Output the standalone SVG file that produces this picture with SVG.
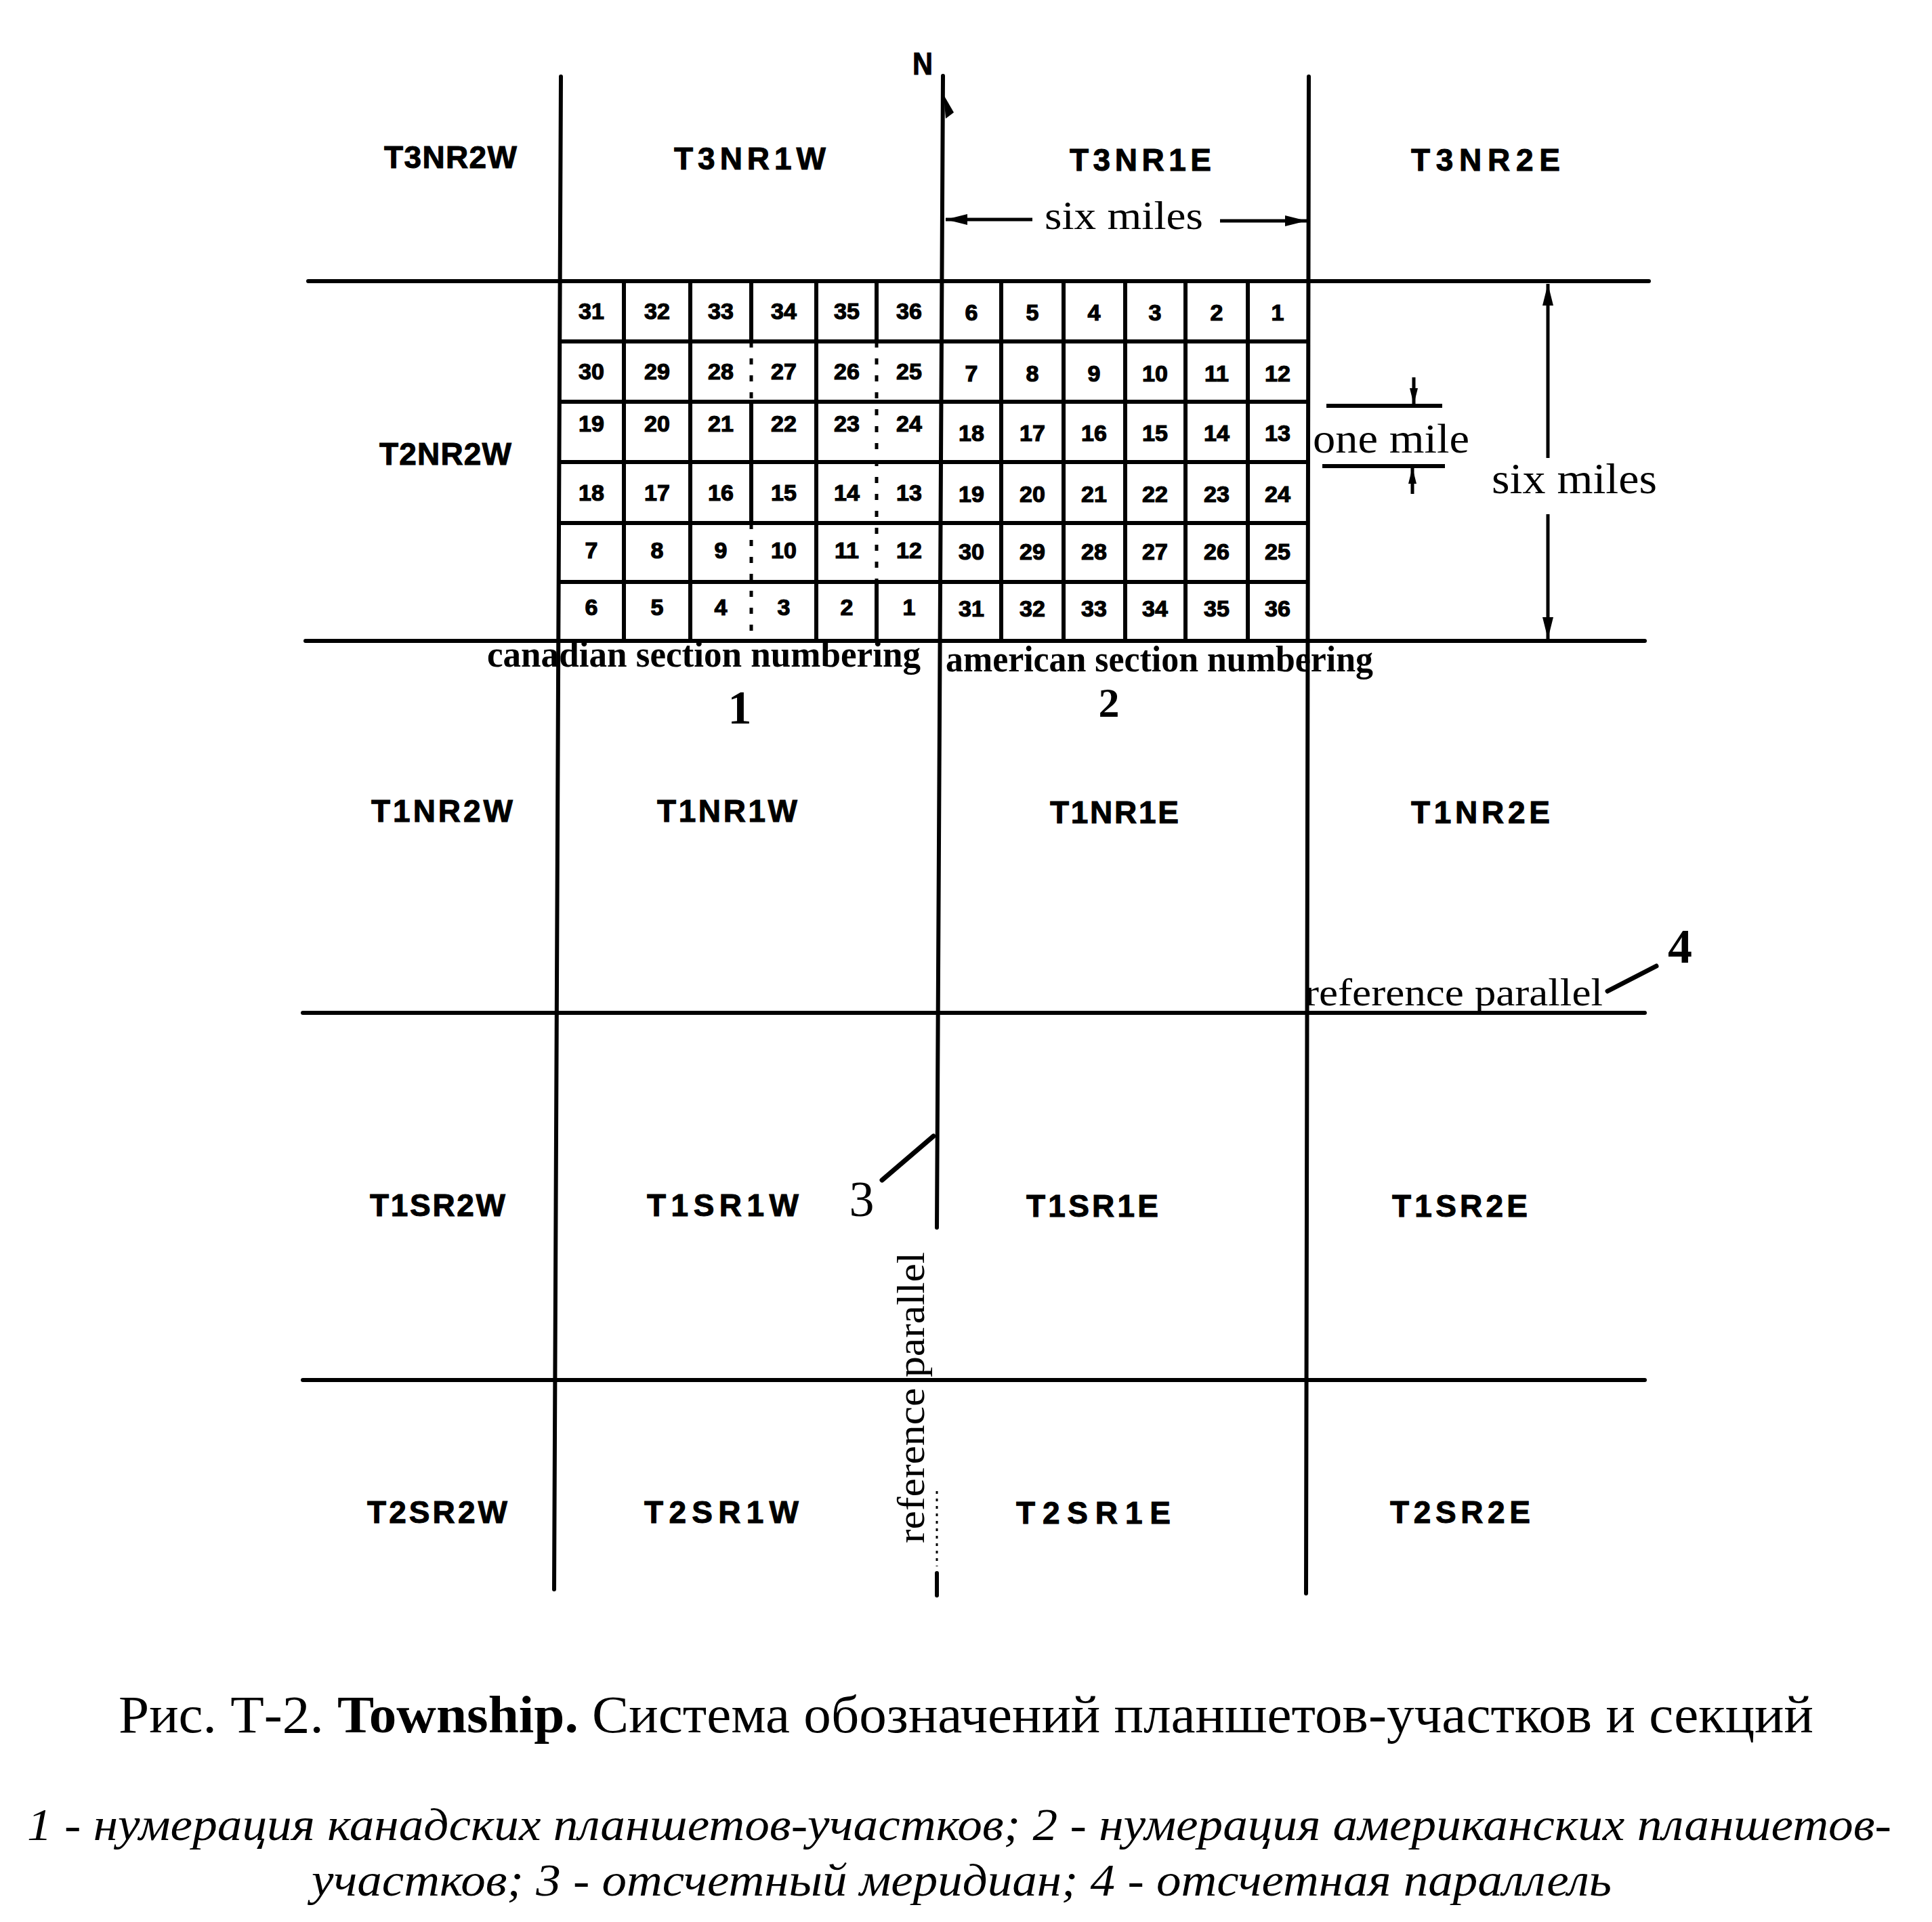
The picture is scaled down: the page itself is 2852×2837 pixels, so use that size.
<svg xmlns="http://www.w3.org/2000/svg" width="2852" height="2837" viewBox="0 0 2852 2837">
<style>
.ln{stroke:#000;stroke-width:6;fill:none;stroke-linecap:round}
.gl{stroke:#000;stroke-width:6;fill:none}
.dl{stroke:#000;stroke-width:5;fill:none;stroke-dasharray:9 16}
.tw{font-family:'Liberation Sans',Arial,sans-serif;font-weight:bold;font-size:46px;fill:#000;stroke:#000;stroke-width:1}
.nm{font-family:'Liberation Sans',Arial,sans-serif;font-weight:bold;font-size:34px;fill:#000;text-anchor:middle;stroke:#000;stroke-width:1.2}
.sf{font-family:'Liberation Serif','Times New Roman',serif;fill:#000}
.bsf{font-family:'Liberation Serif','Times New Roman',serif;font-weight:bold;fill:#000}
.ar{stroke:#000;stroke-width:5;fill:none}
.ld{stroke:#000;stroke-width:7;fill:none;stroke-linecap:round}
</style>
<defs>
<marker id="ah" markerUnits="userSpaceOnUse" markerWidth="34" markerHeight="18" refX="32" refY="8" orient="auto"><path d="M0,0 L32,8 L0,16 z" fill="#000"/></marker>
<marker id="ahs" markerUnits="userSpaceOnUse" markerWidth="26" markerHeight="14" refX="24" refY="6" orient="auto"><path d="M0,0 L24,6 L0,12 z" fill="#000"/></marker>
</defs>
<rect width="2852" height="2837" fill="#fff"/>

<g id="main-lines">
<line class="ln" x1="455" y1="415" x2="2434" y2="415"/>
<line class="ln" x1="451" y1="946" x2="2428" y2="946"/>
<line class="ln" x1="447" y1="1495" x2="2428" y2="1495"/>
<line class="ln" x1="447" y1="2037" x2="2428" y2="2037"/>
<line class="ln" x1="828" y1="113" x2="818" y2="2346"/>
<line class="ln" x1="1392" y1="112" x2="1383" y2="1812"/>
<line class="ln" x1="1932" y1="113" x2="1928" y2="2352"/>
<line class="ln" x1="1383" y1="2322" x2="1383" y2="2355"/>
<line x1="1383" y1="2201" x2="1383" y2="2312" stroke="#000" stroke-width="3" stroke-dasharray="4 7"/>
<path d="M1393,140 L1408,166 L1396,175 Z" fill="#000"/>
</g>

<g id="north">
<text class="tw" x="1347" y="110" font-size="50" textLength="30" lengthAdjust="spacingAndGlyphs">N</text>
</g>

<g id="section-grid">
<line class="gl" x1="921" y1="414" x2="921" y2="946"/>
<line class="gl" x1="1019" y1="414" x2="1019" y2="946"/>
<line class="gl" x1="1109" y1="414" x2="1109" y2="504"/>
<line class="dl" x1="1109" y1="504" x2="1109" y2="592"/>
<line class="gl" x1="1109" y1="592" x2="1109" y2="772"/>
<line class="dl" x1="1109" y1="772" x2="1109" y2="946"/>
<line class="gl" x1="1205" y1="414" x2="1205" y2="946"/>
<line class="gl" x1="1294" y1="414" x2="1294" y2="504"/>
<line class="dl" x1="1294" y1="504" x2="1294" y2="858"/>
<line class="gl" x1="1294" y1="858" x2="1294" y2="946"/>
<line class="gl" x1="1478" y1="414" x2="1478" y2="946"/>
<line class="gl" x1="1570" y1="414" x2="1570" y2="946"/>
<line class="gl" x1="1661" y1="414" x2="1661" y2="946"/>
<line class="gl" x1="1750" y1="414" x2="1750" y2="946"/>
<line class="gl" x1="1842" y1="414" x2="1842" y2="946"/>
<line class="gl" x1="826" y1="504" x2="1931" y2="504"/>
<line class="gl" x1="826" y1="593" x2="1931" y2="593"/>
<line class="gl" x1="826" y1="682" x2="1931" y2="682"/>
<line class="gl" x1="826" y1="772" x2="1931" y2="772"/>
<line class="gl" x1="826" y1="859" x2="1931" y2="859"/>

<g id="canadian-numbers">
<text class="nm" x="873" y="471">31</text><text class="nm" x="970" y="471">32</text><text class="nm" x="1064" y="471">33</text><text class="nm" x="1157" y="471">34</text><text class="nm" x="1250" y="471">35</text><text class="nm" x="1342" y="471">36</text>
<text class="nm" x="873" y="560">30</text><text class="nm" x="970" y="560">29</text><text class="nm" x="1064" y="560">28</text><text class="nm" x="1157" y="560">27</text><text class="nm" x="1250" y="560">26</text><text class="nm" x="1342" y="560">25</text>
<text class="nm" x="873" y="637">19</text><text class="nm" x="970" y="637">20</text><text class="nm" x="1064" y="637">21</text><text class="nm" x="1157" y="637">22</text><text class="nm" x="1250" y="637">23</text><text class="nm" x="1342" y="637">24</text>
<text class="nm" x="873" y="739">18</text><text class="nm" x="970" y="739">17</text><text class="nm" x="1064" y="739">16</text><text class="nm" x="1157" y="739">15</text><text class="nm" x="1250" y="739">14</text><text class="nm" x="1342" y="739">13</text>
<text class="nm" x="873" y="824">7</text><text class="nm" x="970" y="824">8</text><text class="nm" x="1064" y="824">9</text><text class="nm" x="1157" y="824">10</text><text class="nm" x="1250" y="824">11</text><text class="nm" x="1342" y="824">12</text>
<text class="nm" x="873" y="908">6</text><text class="nm" x="970" y="908">5</text><text class="nm" x="1064" y="908">4</text><text class="nm" x="1157" y="908">3</text><text class="nm" x="1250" y="908">2</text><text class="nm" x="1342" y="908">1</text>
</g>
<g id="american-numbers">
<text class="nm" x="1434" y="473">6</text><text class="nm" x="1524" y="473">5</text><text class="nm" x="1615" y="473">4</text><text class="nm" x="1705" y="473">3</text><text class="nm" x="1796" y="473">2</text><text class="nm" x="1886" y="473">1</text>
<text class="nm" x="1434" y="563">7</text><text class="nm" x="1524" y="563">8</text><text class="nm" x="1615" y="563">9</text><text class="nm" x="1705" y="563">10</text><text class="nm" x="1796" y="563">11</text><text class="nm" x="1886" y="563">12</text>
<text class="nm" x="1434" y="651">18</text><text class="nm" x="1524" y="651">17</text><text class="nm" x="1615" y="651">16</text><text class="nm" x="1705" y="651">15</text><text class="nm" x="1796" y="651">14</text><text class="nm" x="1886" y="651">13</text>
<text class="nm" x="1434" y="741">19</text><text class="nm" x="1524" y="741">20</text><text class="nm" x="1615" y="741">21</text><text class="nm" x="1705" y="741">22</text><text class="nm" x="1796" y="741">23</text><text class="nm" x="1886" y="741">24</text>
<text class="nm" x="1434" y="826">30</text><text class="nm" x="1524" y="826">29</text><text class="nm" x="1615" y="826">28</text><text class="nm" x="1705" y="826">27</text><text class="nm" x="1796" y="826">26</text><text class="nm" x="1886" y="826">25</text>
<text class="nm" x="1434" y="910">31</text><text class="nm" x="1524" y="910">32</text><text class="nm" x="1615" y="910">33</text><text class="nm" x="1705" y="910">34</text><text class="nm" x="1796" y="910">35</text><text class="nm" x="1886" y="910">36</text>
</g>
</g>

<g id="townships">
<g id="t3nr2w"><text class="tw" x="567" y="248" textLength="196" lengthAdjust="spacing">T3NR2W</text></g>
<g id="t3nr1w"><text class="tw" x="995" y="250" textLength="224" lengthAdjust="spacing">T3NR1W</text></g>
<g id="t3nr1e"><text class="tw" x="1579" y="252" textLength="209" lengthAdjust="spacing">T3NR1E</text></g>
<g id="t3nr2e"><text class="tw" x="2083" y="252" textLength="220" lengthAdjust="spacing">T3NR2E</text></g>
<g id="t2nr2w"><text class="tw" x="560" y="686" textLength="195" lengthAdjust="spacing">T2NR2W</text></g>
<g id="t1nr2w"><text class="tw" x="548" y="1213" textLength="209" lengthAdjust="spacing">T1NR2W</text></g>
<g id="t1nr1w"><text class="tw" x="970" y="1213" textLength="207" lengthAdjust="spacing">T1NR1W</text></g>
<g id="t1nr1e"><text class="tw" x="1550" y="1215" textLength="190" lengthAdjust="spacing">T1NR1E</text></g>
<g id="t1nr2e"><text class="tw" x="2083" y="1215" textLength="205" lengthAdjust="spacing">T1NR2E</text></g>
<g id="t1sr2w"><text class="tw" x="546" y="1795" textLength="200" lengthAdjust="spacing">T1SR2W</text></g>
<g id="t1sr1w"><text class="tw" x="955" y="1795" textLength="224" lengthAdjust="spacing">T1SR1W</text></g>
<g id="t1sr1e"><text class="tw" x="1515" y="1796" textLength="195" lengthAdjust="spacing">T1SR1E</text></g>
<g id="t1sr2e"><text class="tw" x="2055" y="1796" textLength="200" lengthAdjust="spacing">T1SR2E</text></g>
<g id="t2sr2w"><text class="tw" x="542" y="2248" textLength="207" lengthAdjust="spacing">T2SR2W</text></g>
<g id="t2sr1w"><text class="tw" x="951" y="2248" textLength="228" lengthAdjust="spacing">T2SR1W</text></g>
<g id="t2sr1e"><text class="tw" x="1500" y="2249" textLength="228" lengthAdjust="spacing">T2SR1E</text></g>
<g id="t2sr2e"><text class="tw" x="2052" y="2248" textLength="207" lengthAdjust="spacing">T2SR2E</text></g>
</g>

<g id="dimensions">
<path class="ar" d="M1524,324 L1396,324" marker-end="url(#ah)"/>
<path class="ar" d="M1801,326 L1929,326" marker-end="url(#ah)"/>
<text class="sf" x="1542" y="338" font-size="60" textLength="234" lengthAdjust="spacingAndGlyphs">six miles</text>
<path class="ar" d="M2285,676 L2285,419" marker-end="url(#ah)"/>
<path class="ar" d="M2285,759 L2285,943" marker-end="url(#ah)"/>
<text class="sf" x="2202" y="728" font-size="64" textLength="244" lengthAdjust="spacingAndGlyphs">six miles</text>
<line class="gl" x1="1958" y1="599" x2="2129" y2="599"/>
<line class="gl" x1="1952" y1="688" x2="2133" y2="688"/>
<path class="ar" d="M2087,557 L2087,597" stroke-width="4" marker-end="url(#ahs)"/>
<path class="ar" d="M2085,729 L2085,690" stroke-width="4" marker-end="url(#ahs)"/>
<text class="sf" x="1938" y="668" font-size="62" textLength="231" lengthAdjust="spacingAndGlyphs">one mile</text>
</g>

<g id="numbering-labels">
<text class="bsf" x="719" y="984" font-size="54" textLength="640" lengthAdjust="spacingAndGlyphs">canadian section numbering</text>
<text class="bsf" x="1396" y="991" font-size="54" textLength="631" lengthAdjust="spacingAndGlyphs">american section numbering</text>
<text class="bsf" x="1092" y="1068" font-size="70" text-anchor="middle">1</text>
<text class="bsf" x="1637" y="1058" font-size="62" text-anchor="middle">2</text>
</g>

<g id="reference-labels">
<text class="sf" x="1926" y="1484" font-size="56" textLength="440" lengthAdjust="spacingAndGlyphs">reference parallel</text>
<line class="ld" x1="2373" y1="1463" x2="2445" y2="1426"/>
<text class="bsf" x="2480" y="1421" font-size="72" text-anchor="middle">4</text>
<text class="sf" transform="translate(1364,2278) rotate(-90)" x="0" y="0" font-size="56" textLength="430" lengthAdjust="spacingAndGlyphs">reference parallel</text>
<line class="ld" x1="1302" y1="1742" x2="1378" y2="1677"/>
<text class="sf" x="1272" y="1795" font-size="74" text-anchor="middle">3</text>
</g>

<g id="caption">
<text class="sf" x="175" y="2557" font-size="79" textLength="2502" lengthAdjust="spacingAndGlyphs">Рис. Т-2. <tspan font-weight="bold">Township.</tspan> Система обозначений планшетов-участков и секций</text>
<text class="sf" x="40" y="2716" font-size="68" font-style="italic" textLength="2752" lengthAdjust="spacingAndGlyphs">1 - нумерация канадских планшетов-участков; 2 - нумерация американских планшетов-</text>
<text class="sf" x="460" y="2798" font-size="68" font-style="italic" textLength="1919" lengthAdjust="spacingAndGlyphs">участков; 3 - отсчетный меридиан; 4 - отсчетная параллель</text>
</g>
</svg>
